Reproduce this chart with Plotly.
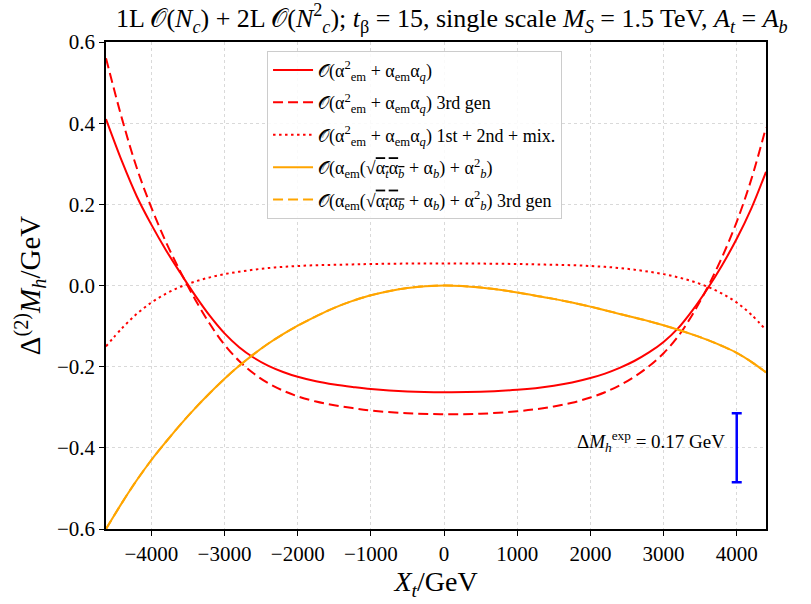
import plotly.graph_objects as go

xt = [-4620, -4400, -4200, -4000, -3800, -3600, -3400, -3200, -3000, -2800, -2600,
      -2400, -2200, -2000, -1750, -1500, -1250, -1000, -500, 0, 500, 1000, 1250,
      1500, 1750, 2000, 2200, 2400, 2600, 2800, 3000, 3200, 3400, 3600, 3800, 4000,
      4200, 4400]

red_full = [0.41, 0.305, 0.22, 0.15, 0.087, 0.03, -0.025, -0.075, -0.118, -0.152, -0.178,
            -0.198, -0.213, -0.225, -0.236, -0.244, -0.25, -0.255, -0.261, -0.263, -0.262,
            -0.257, -0.253, -0.247, -0.239, -0.228, -0.217, -0.203, -0.186, -0.165, -0.139,
            -0.105, -0.06, -0.008, 0.05, 0.115, 0.19, 0.28]

red_3rd = [0.56, 0.41, 0.29, 0.192, 0.107, 0.033, -0.035, -0.095, -0.146, -0.186, -0.217,
           -0.241, -0.259, -0.273, -0.286, -0.295, -0.302, -0.308, -0.315, -0.317, -0.316,
           -0.31, -0.305, -0.298, -0.289, -0.276, -0.263, -0.246, -0.225, -0.199, -0.167,
           -0.125, -0.07, -0.005, 0.07, 0.157, 0.262, 0.39]

red_12mix = [-0.15, -0.105, -0.07, -0.042, -0.02, -0.003, 0.01, 0.02, 0.028, 0.034, 0.039,
             0.043, 0.046, 0.048, 0.05, 0.051, 0.052, 0.053, 0.054, 0.054, 0.054,
             0.053, 0.052, 0.051, 0.05, 0.048, 0.046, 0.043, 0.039, 0.034, 0.028,
             0.02, 0.01, -0.003, -0.02, -0.042, -0.072, -0.11]

orange_full = [-0.60, -0.535, -0.48, -0.43, -0.385, -0.342, -0.302, -0.265, -0.23, -0.198, -0.169,
               -0.143, -0.12, -0.099, -0.076, -0.055, -0.038, -0.024, -0.006, 0.0, -0.005,
               -0.017, -0.025, -0.033, -0.042, -0.052, -0.061, -0.07, -0.079, -0.088, -0.098,
               -0.109, -0.121, -0.134, -0.149, -0.166, -0.188, -0.214]

orange_3rd = [-0.60, -0.535, -0.48, -0.43, -0.385, -0.342, -0.302, -0.265, -0.23, -0.198, -0.169,
              -0.143, -0.12, -0.099, -0.076, -0.055, -0.038, -0.024, -0.006, 0.0, -0.005,
              -0.017, -0.025, -0.033, -0.042, -0.052, -0.061, -0.07, -0.079, -0.088, -0.098,
              -0.109, -0.121, -0.134, -0.149, -0.166, -0.188, -0.214]

exp_x = [4000]
exp_y = [-0.40]
exp_err = [0.085]

FONT = "Liberation Serif"
RED = "#ff0000"
ORANGE = "#ffa500"
DASH = "10px,5px"
DOT = "2.5px,3.5px"

sq = "√<span style='text-decoration:overline'>α<sub><i>t</i></sub>α<sub><i>b</i></sub></span>"
names = [
    "𝒪(α<sup>2</sup><sub>em</sub> + α<sub>em</sub>α<sub><i>q</i></sub>)",
    "𝒪(α<sup>2</sup><sub>em</sub> + α<sub>em</sub>α<sub><i>q</i></sub>) 3rd gen",
    "𝒪(α<sup>2</sup><sub>em</sub> + α<sub>em</sub>α<sub><i>q</i></sub>) 1st + 2nd + mix.",
    "𝒪(α<sub>em</sub>(" + sq + " + α<sub><i>b</i></sub>) + α<sup>2</sup><sub><i>b</i></sub>)",
    "𝒪(α<sub>em</sub>(" + sq + " + α<sub><i>b</i></sub>) + α<sup>2</sup><sub><i>b</i></sub>) 3rd gen",
]

fig = go.Figure()
series = [(red_full, RED, "solid"), (red_3rd, RED, DASH), (red_12mix, RED, DOT),
          (orange_full, ORANGE, "solid"), (orange_3rd, ORANGE, DASH)]
for i, ((ys, col, dash), nm) in enumerate(zip(series, names)):
    fig.add_trace(go.Scatter(x=xt, y=ys, mode="lines", name=nm, legendgroup=f"g{i}",
                             line=dict(color=col, width=2, dash=dash, shape="spline", smoothing=1.0)))

fig.add_trace(go.Scatter(x=exp_x, y=exp_y, mode="markers", showlegend=False,
                         marker=dict(size=1, color="rgba(0,0,255,0)"),
                         error_y=dict(type="data", array=exp_err, color="#0000ff",
                                      thickness=2.5, width=5)))

fig.add_annotation(x=3870, y=-0.385, xref="x", yref="y", xanchor="right", yanchor="middle",
                   text="Δ<i>M</i><sub><i>h</i></sub><sup>exp</sup> = 0.17 GeV",
                   showarrow=False, font=dict(family=FONT, size=19, color="black"))

fig.update_layout(
    width=811, height=604,
    margin=dict(l=106, r=45, t=42, b=72),
    paper_bgcolor="white", plot_bgcolor="white",
    font=dict(family=FONT, size=20, color="black"),
    title=dict(text="1L 𝒪(<i>N</i><sub><i>c</i></sub>) + 2L 𝒪(<i>N</i><sup>2</sup><sub><i>c</i></sub>); <i>t</i><sub>β</sub> = 15, single scale <i>M</i><sub><i>S</i></sub> = 1.5 TeV, <i>A</i><sub><i>t</i></sub> = <i>A</i><sub><i>b</i></sub>",
               x=116 / 811, xanchor="left", xref="container", y=1 - 18 / 604, yanchor="middle",
               yref="container", font=dict(family=FONT, size=26)),
    legend=dict(x=0.244, y=0.982, xanchor="left", yanchor="top",
                bgcolor="rgba(255,255,255,0.85)", bordercolor="#cccccc", borderwidth=1,
                font=dict(family=FONT, size=18), tracegroupgap=6, itemwidth=40),
    showlegend=True,
)

fig.update_xaxes(range=[-4620, 4400], tickmode="linear", tick0=-4000, dtick=1000,
                 showline=True, linecolor="black", linewidth=1.5, mirror=True,
                 ticks="outside", ticklen=5, tickcolor="black", tickwidth=1.2,
                 showgrid=True, gridcolor="#d9d9d9", griddash="dot", gridwidth=1,
                 zeroline=False, tickfont=dict(size=21),
                 title=dict(text="<i>X</i><sub><i>t</i></sub>/GeV", font=dict(size=28), standoff=6))
fig.update_yaxes(range=[-0.6, 0.6], tickmode="linear", tick0=-0.6, dtick=0.2, tickformat=".1f",
                 showline=True, linecolor="black", linewidth=1.5, mirror=True,
                 ticks="outside", ticklen=5, tickcolor="black", tickwidth=1.2,
                 showgrid=True, gridcolor="#d9d9d9", griddash="dot", gridwidth=1,
                 zeroline=False, tickfont=dict(size=21),
                 title=dict(text="Δ<sup>(2)</sup><i>M</i><sub><i>h</i></sub>/GeV", font=dict(size=29), standoff=8))

fig.write_html("out.html")
